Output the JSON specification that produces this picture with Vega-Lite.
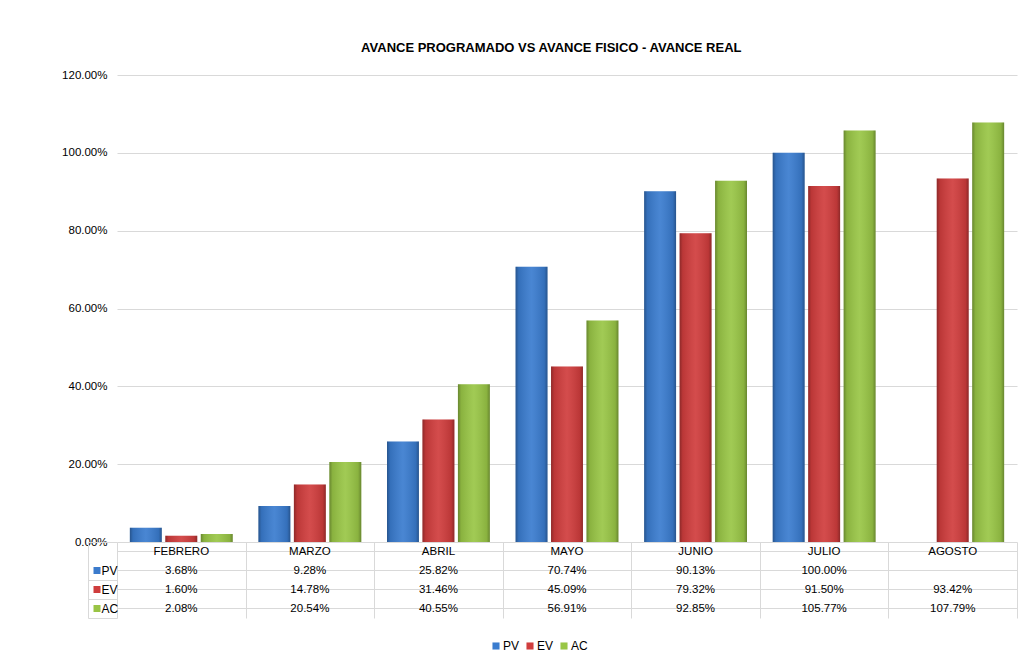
{
  "$schema": "https://vega.github.io/schema/vega-lite/v6.json",
  "background": "white",
  "padding": {"left": 61, "top": 42, "right": 5, "bottom": 5},
  "config": {
    "font": "Liberation Sans",
    "view": {"stroke": null},
    "axis": {"labelFont": "Liberation Sans", "labelColor": "#000000", "labelFontSize": 11.5}
  },
  "title": {
    "text": "AVANCE PROGRAMADO VS AVANCE FISICO  - AVANCE REAL",
    "fontSize": 13,
    "fontWeight": "bold",
    "color": "#000000",
    "font": "Liberation Sans",
    "anchor": "middle",
    "dx": 12,
    "offset": 14
  },
  "datasets": {
    "d": [
      {"month": "FEBRERO", "series": "PV", "value": 0.0368},
      {"month": "FEBRERO", "series": "EV", "value": 0.016},
      {"month": "FEBRERO", "series": "AC", "value": 0.0208},
      {"month": "MARZO", "series": "PV", "value": 0.0928},
      {"month": "MARZO", "series": "EV", "value": 0.1478},
      {"month": "MARZO", "series": "AC", "value": 0.2054},
      {"month": "ABRIL", "series": "PV", "value": 0.2582},
      {"month": "ABRIL", "series": "EV", "value": 0.3146},
      {"month": "ABRIL", "series": "AC", "value": 0.4055},
      {"month": "MAYO", "series": "PV", "value": 0.7074},
      {"month": "MAYO", "series": "EV", "value": 0.4509},
      {"month": "MAYO", "series": "AC", "value": 0.5691},
      {"month": "JUNIO", "series": "PV", "value": 0.9013},
      {"month": "JUNIO", "series": "EV", "value": 0.7932},
      {"month": "JUNIO", "series": "AC", "value": 0.9285},
      {"month": "JULIO", "series": "PV", "value": 1.0},
      {"month": "JULIO", "series": "EV", "value": 0.915},
      {"month": "JULIO", "series": "AC", "value": 1.0577},
      {"month": "AGOSTO", "series": "EV", "value": 0.9342},
      {"month": "AGOSTO", "series": "AC", "value": 1.0779}
    ]
  },
  "bounds": "flush",
  "spacing": 0,
  "vconcat": [
    {
      "width": 900,
      "height": 467,
      "data": {"name": "d"},
      "encoding": {
        "x": {
          "field": "month",
          "type": "nominal",
          "sort": ["FEBRERO", "MARZO", "ABRIL", "MAYO", "JUNIO", "JULIO", "AGOSTO"],
          "scale": {"paddingInner": 0.2, "paddingOuter": 0.1},
          "axis": null
        },
        "xOffset": {
          "field": "series",
          "sort": ["PV", "EV", "AC"],
          "scale": {"paddingInner": 0.1, "paddingOuter": 0}
        },
        "y": {
          "field": "value",
          "type": "quantitative",
          "scale": {"domain": [0, 1.2], "nice": false},
          "axis": {
            "title": null,
            "format": ".2%",
            "values": [0, 0.2, 0.4, 0.6, 0.8, 1.0, 1.2],
            "ticks": false,
            "domain": false,
            "labelPadding": 10,
            "gridColor": "#d9d9d9",
            "gridWidth": 1
          }
        }
      },
      "layer": [
        {
          "mark": {"type": "bar"},
          "encoding": {
            "color": {
              "field": "series",
              "type": "nominal",
              "scale": {"domain": ["PV", "EV", "AC"], "range": ["#3a7ccf", "#d03d3d", "#99c646"]},
              "legend": {
                "title": null,
                "orient": "none",
                "legendX": 373,
                "legendY": 565,
                "direction": "horizontal",
                "symbolType": "square",
                "symbolSize": 50,
                "symbolStrokeWidth": 0,
                "labelFontSize": 12,
                "labelFont": "Liberation Sans",
                "labelColor": "#000000",
                "columnPadding": 4,
                "labelOffset": 1
              }
            }
          }
        },
        {
          "mark": {
            "type": "bar",
            "color": {
              "gradient": "linear", "x1": 0, "y1": 0, "x2": 1, "y2": 0,
              "stops": [
                {"offset": 0, "color": "rgba(0,0,0,0.32)"},
                {"offset": 0.1, "color": "rgba(0,0,0,0.1)"},
                {"offset": 0.5, "color": "rgba(255,255,255,0.08)"},
                {"offset": 0.9, "color": "rgba(0,0,0,0.1)"},
                {"offset": 1, "color": "rgba(0,0,0,0.32)"}
              ]
            }
          }
        }
      ]
    },
    {
      "width": 900,
      "height": 76,
      "data": {"name": "d"},
      "resolve": {"scale": {"y": "independent"}, "axis": {"y": "independent"}},
      "encoding": {
        "x": {
          "field": "month",
          "type": "nominal",
          "sort": ["FEBRERO", "MARZO", "ABRIL", "MAYO", "JUNIO", "JULIO", "AGOSTO"],
          "scale": {"paddingInner": 0, "paddingOuter": 0},
          "axis": {
            "title": null,
            "labels": false,
            "ticks": false,
            "domain": false,
            "grid": true,
            "tickBand": "extent",
            "gridColor": "#d9d9d9"
          }
        }
      },
      "layer": [
        {
          "transform": [{"filter": "datum.series === 'EV'"}],
          "mark": {"type": "text", "fontSize": 11.5, "color": "#000000"},
          "encoding": {
            "y": {
              "datum": "H",
              "type": "nominal",
              "scale": {"domain": ["H", "PV", "EV", "AC"], "paddingInner": 0, "paddingOuter": 0},
              "axis": {
                "title": null,
                "orient": "left",
                "offset": 24,
                "domain": false,
                "grid": true,
                "gridColor": "#d9d9d9",
                "tickBand": "center",
                "ticks": true,
                "tickSize": -7,
                "tickWidth": 7,
                "tickCap": "butt",
                "tickColor": {
                  "condition": [
                    {"test": "datum.value === 'PV'", "value": "#3b7bcc"},
                    {"test": "datum.value === 'EV'", "value": "#cf3d3d"},
                    {"test": "datum.value === 'AC'", "value": "#99c445"}
                  ],
                  "value": "transparent"
                },
                "labelExpr": "datum.value === 'H' ? '' : datum.value",
                "labelAlign": "left",
                "labelPadding": -1,
                "labelFontSize": 12
              }
            },
            "text": {"field": "month"}
          }
        },
        {
          "mark": {"type": "text", "fontSize": 11.5, "color": "#000000"},
          "encoding": {
            "y": {
              "field": "series",
              "type": "nominal",
              "scale": {"domain": ["H", "PV", "EV", "AC"], "paddingInner": 0, "paddingOuter": 0},
              "axis": null
            },
            "text": {"field": "value", "type": "quantitative", "format": ".2%"}
          }
        },
        {
          "transform": [{"filter": "datum.month === 'FEBRERO'"}],
          "mark": {"type": "text", "text": ""},
          "encoding": {
            "y": {
              "field": "series",
              "type": "nominal",
              "scale": {"domain": ["H", "PV", "EV", "AC"], "paddingInner": 0, "paddingOuter": 0},
              "axis": {
                "title": null,
                "orient": "left",
                "offset": 29,
                "labels": false,
                "grid": false,
                "domain": true,
                "domainColor": "#d9d9d9",
                "ticks": true,
                "tickBand": "extent",
                "tickSize": -29,
                "tickWidth": 1,
                "tickColor": "#d9d9d9",
                "tickOpacity": {"condition": {"test": "datum.value === 'H'", "value": 0}, "value": 1}
              }
            }
          }
        }
      ]
    }
  ]
}
